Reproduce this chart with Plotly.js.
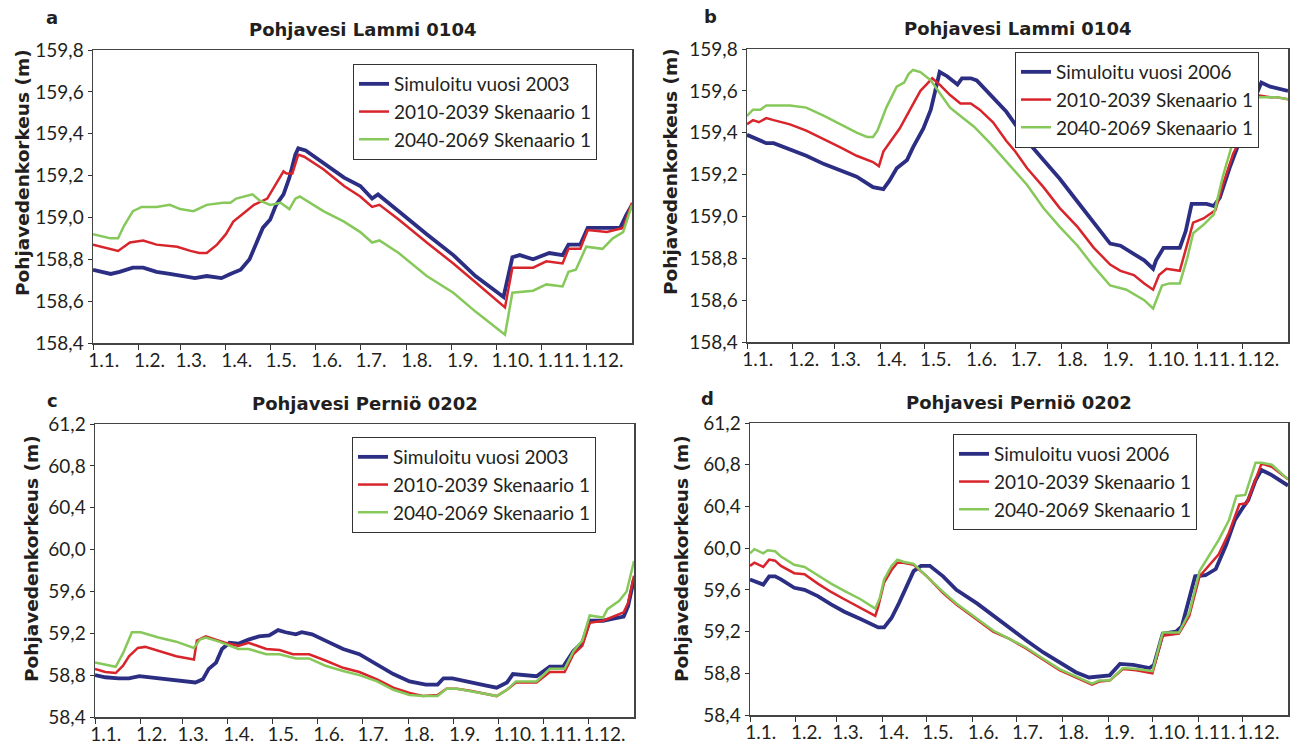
<!DOCTYPE html>
<html>
<head>
<meta charset="utf-8">
<script src="https://cdn.plot.ly/plotly-3.0.1.min.js"></script>
<style>html,body{margin:0;padding:0;background:#fff;}#chart{width:1295px;height:749px;}</style>
</head>
<body>
<div id="chart"></div>
<script>
// ---------- DATA (day of year, groundwater level in m) ----------
const monthTickDays = [0,31,59,90,120,151,181,212,243,273,304,334];
const monthTickLabels = ["1.1.","1.2.","1.3.","1.4.","1.5.","1.6.","1.7.","1.8.","1.9.","1.10.","1.11.","1.12."];

const seriesNamesAC = ["Simuloitu vuosi 2003","2010-2039 Skenaario 1","2040-2069 Skenaario 1"];
const seriesNamesBD = ["Simuloitu vuosi 2006","2010-2039 Skenaario 1","2040-2069 Skenaario 1"];
const panelTitles = ["Pohjavesi Lammi 0104","Pohjavesi Lammi 0104","Pohjavesi Perniö 0202","Pohjavesi Perniö 0202"];
const panelLetters = ["a","b","c","d"];
const yAxisTitle = "Pohjavedenkorkeus (m)";
const yTicksLammi = [158.4,158.6,158.8,159.0,159.2,159.4,159.6,159.8];
const yTicksPernio = [58.4,58.8,59.2,59.6,60.0,60.4,60.8,61.2];

// Panel a: Lammi 0104, 2003
const a_sim_x = [0,12,18,27,34,43,52,61,69,77,87,93,100,106,111,115,120,124,129,133,137,139,144,156,170,181,189,193,198,207,226,244,259,278,284,289,298,309,318,322,330,335,343,357,361,365];
const a_sim_y = [158.75,158.73,158.74,158.76,158.76,158.74,158.73,158.72,158.71,158.72,158.71,158.73,158.75,158.80,158.88,158.95,158.99,159.06,159.11,159.19,159.30,159.33,159.32,159.26,159.19,159.15,159.09,159.11,159.08,159.03,158.92,158.82,158.72,158.62,158.81,158.82,158.80,158.83,158.82,158.87,158.87,158.95,158.95,158.95,159.01,159.06];
const a_s1_x = [0,11,17,25,34,43,57,66,72,77,84,90,95,102,109,118,123,129,131,135,139,143,156,170,181,189,194,207,226,244,259,279,284,293,298,307,318,322,330,335,348,359,365];
const a_s1_y = [158.87,158.85,158.84,158.88,158.89,158.87,158.86,158.84,158.83,158.83,158.87,158.92,158.98,159.02,159.06,159.09,159.15,159.22,159.21,159.21,159.30,159.29,159.23,159.15,159.10,159.05,159.06,158.99,158.88,158.78,158.69,158.57,158.76,158.76,158.76,158.79,158.78,158.85,158.85,158.94,158.93,158.95,159.07];
const a_s2_x = [0,7,12,17,21,27,33,43,52,59,68,77,88,93,97,108,113,120,127,133,137,140,156,170,181,189,194,207,226,244,259,279,284,298,307,318,322,327,334,345,352,359,365];
const a_s2_y = [158.92,158.91,158.90,158.90,158.96,159.03,159.05,159.05,159.06,159.04,159.03,159.06,159.07,159.07,159.09,159.11,159.08,159.06,159.07,159.04,159.09,159.10,159.03,158.98,158.93,158.88,158.89,158.83,158.72,158.64,158.55,158.44,158.64,158.65,158.68,158.67,158.74,158.75,158.86,158.85,158.90,158.93,159.06];

// Panel b: Lammi 0104, 2006
const b_sim_x = [0,7,13,18,29,40,52,63,74,85,92,96,101,108,112,119,124,128,130,135,142,145,151,155,164,175,181,189,200,211,223,234,245,252,261,268,274,276,281,292,296,300,310,315,319,326,333,339,347,353,365];
const b_sim_y = [159.39,159.37,159.35,159.35,159.32,159.29,159.25,159.22,159.19,159.14,159.13,159.17,159.23,159.27,159.33,159.42,159.51,159.63,159.69,159.67,159.63,159.66,159.66,159.65,159.58,159.50,159.44,159.36,159.27,159.18,159.07,158.97,158.87,158.86,158.82,158.79,158.75,158.79,158.85,158.85,158.93,159.06,159.06,159.05,159.09,159.24,159.37,159.50,159.64,159.62,159.60];
const b_s1_x = [0,4,8,13,18,29,40,52,63,74,85,89,92,97,103,110,117,121,125,130,137,144,151,157,166,175,181,189,200,211,223,234,245,252,261,268,274,278,283,292,297,301,308,316,321,328,333,339,344,353,357,365];
const b_s1_y = [159.44,159.46,159.45,159.47,159.46,159.44,159.41,159.37,159.33,159.29,159.26,159.24,159.31,159.36,159.42,159.51,159.60,159.63,159.66,159.63,159.58,159.54,159.54,159.51,159.45,159.36,159.31,159.23,159.14,159.04,158.95,158.85,158.77,158.74,158.72,158.68,158.65,158.72,158.75,158.74,158.87,158.97,158.99,159.03,159.15,159.30,159.37,159.50,159.58,159.57,159.57,159.56];
const b_s2_x = [0,4,9,13,29,40,52,63,74,81,85,88,94,101,106,109,112,117,124,130,137,144,153,164,175,181,189,200,211,223,234,245,256,268,274,280,285,292,297,301,308,315,321,328,333,339,344,353,357,365];
const b_s2_y = [159.48,159.51,159.51,159.53,159.53,159.52,159.48,159.44,159.40,159.38,159.38,159.41,159.52,159.62,159.64,159.68,159.70,159.69,159.65,159.59,159.52,159.48,159.43,159.35,159.26,159.21,159.15,159.04,158.95,158.86,158.76,158.67,158.65,158.60,158.56,158.67,158.68,158.68,158.80,158.92,158.96,159.01,159.19,159.36,159.39,159.52,159.57,159.57,159.57,159.56];

// Panel c: Perniö 0202, 2003
const c_sim_x = [0,7,16,23,30,37,48,59,68,73,77,82,86,91,97,104,111,118,124,129,136,140,147,156,168,179,191,202,213,224,232,236,242,254,265,272,279,283,292,299,308,317,324,330,335,344,351,358,361,365];
const c_sim_y = [58.80,58.78,58.77,58.77,58.79,58.78,58.76,58.74,58.73,58.76,58.86,58.92,59.05,59.11,59.10,59.14,59.17,59.18,59.23,59.21,59.19,59.21,59.19,59.13,59.05,59.00,58.90,58.81,58.74,58.71,58.71,58.77,58.77,58.73,58.70,58.68,58.73,58.81,58.80,58.79,58.88,58.88,59.03,59.11,59.32,59.32,59.34,59.36,59.46,59.72];
const c_s1_x = [0,7,14,19,23,29,34,43,55,67,69,75,82,88,97,104,116,125,134,145,156,168,179,191,202,213,222,232,238,245,254,265,272,279,285,299,308,318,324,330,335,344,351,358,361,365];
const c_s1_y = [58.86,58.83,58.82,58.89,58.98,59.06,59.07,59.03,58.98,58.95,59.13,59.17,59.14,59.11,59.08,59.11,59.05,59.04,59.00,59.00,58.94,58.87,58.83,58.76,58.68,58.63,58.60,58.61,58.67,58.67,58.65,58.62,58.60,58.66,58.73,58.73,58.83,58.83,59.00,59.08,59.30,59.32,59.36,59.40,59.49,59.75];
const c_s2_x = [0,7,14,19,25,31,43,55,67,71,75,84,91,97,104,116,125,136,145,156,168,179,191,202,213,222,232,238,245,254,265,272,279,285,299,308,318,324,330,335,344,347,355,360,365];
const c_s2_y = [58.92,58.90,58.88,59.01,59.21,59.21,59.16,59.12,59.06,59.14,59.16,59.12,59.08,59.05,59.05,59.00,59.00,58.96,58.96,58.89,58.84,58.80,58.74,58.66,58.61,58.60,58.60,58.67,58.67,58.65,58.62,58.60,58.66,58.74,58.74,58.86,58.86,59.03,59.13,59.37,59.35,59.43,59.51,59.60,59.89];

// Panel d: Perniö 0202, 2006
const d_sim_x = [0,4,9,13,17,21,30,37,46,55,64,75,87,91,96,101,107,111,116,122,131,140,154,165,176,188,199,210,221,230,244,251,260,271,274,280,289,293,302,309,316,323,329,334,338,343,347,354,359,365];
const d_sim_y = [59.70,59.68,59.65,59.73,59.73,59.70,59.62,59.60,59.54,59.46,59.39,59.32,59.24,59.24,59.33,59.47,59.67,59.78,59.83,59.83,59.73,59.60,59.47,59.35,59.23,59.11,59.00,58.90,58.81,58.76,58.78,58.89,58.88,58.85,58.88,59.18,59.20,59.25,59.73,59.74,59.80,60.03,60.27,60.38,60.46,60.65,60.75,60.70,60.65,60.60];
const d_s1_x = [0,3,9,13,17,21,30,37,46,55,64,75,85,87,91,96,100,104,111,120,131,140,154,165,176,187,199,210,221,232,237,244,253,262,273,280,291,298,305,311,318,325,332,337,343,347,354,365];
const d_s1_y = [59.83,59.86,59.82,59.89,59.88,59.83,59.76,59.75,59.66,59.58,59.51,59.43,59.35,59.44,59.67,59.79,59.86,59.86,59.84,59.73,59.57,59.46,59.31,59.20,59.13,59.04,58.93,58.83,58.76,58.69,58.72,58.73,58.84,58.83,58.80,59.16,59.18,59.35,59.73,59.83,59.94,60.15,60.42,60.43,60.67,60.81,60.78,60.66];
const d_s2_x = [0,3,9,12,17,21,30,37,46,55,64,75,85,88,91,96,100,104,111,120,131,140,154,165,176,187,199,210,221,232,237,244,253,262,273,280,291,298,305,311,318,325,330,336,343,347,354,365];
const d_s2_y = [59.95,59.99,59.95,59.98,59.97,59.92,59.84,59.82,59.74,59.66,59.59,59.51,59.42,59.52,59.70,59.83,59.89,59.87,59.85,59.73,59.58,59.47,59.32,59.21,59.13,59.05,58.94,58.84,58.77,58.70,58.73,58.73,58.85,58.84,58.82,59.19,59.19,59.38,59.78,59.92,60.08,60.27,60.50,60.51,60.82,60.82,60.80,60.66];

// ---------- STYLE ----------
const COLORS = ["#2b2e83","#d8242b","#86c85a"];
const WIDTHS = [3.8,2.5,2.5];
const tickFont = {family:"Lato, 'Open Sans', sans-serif", size:19, color:"#231f20"};
const boldFont = {family:"'DejaVu Sans', Verdana, sans-serif", size:18, color:"#231f20", weight:"bold"};
const yTitleFont = {family:"'DejaVu Sans', Verdana, sans-serif", size:18.5, color:"#231f20", weight:"bold"};

const panels = [
  {id:"", xs:[a_sim_x,a_s1_x,a_s2_x], ys:[a_sim_y,a_s1_y,a_s2_y], names:seriesNamesAC, yt:yTicksLammi, dx:[93,632], dy:[50,343], leg:[353,64], letter:[52,17], ytitle:[22,173]},
  {id:"2", xs:[b_sim_x,b_s1_x,b_s2_x], ys:[b_sim_y,b_s1_y,b_s2_y], names:seriesNamesBD, yt:yTicksLammi, dx:[747,1288], dy:[49,342], leg:[1015,52], letter:[710,16], ytitle:[671,172]},
  {id:"3", xs:[c_sim_x,c_s1_x,c_s2_x], ys:[c_sim_y,c_s1_y,c_s2_y], names:seriesNamesAC, yt:yTicksPernio, dx:[95,634], dy:[424,717], leg:[352,437], letter:[52,400], ytitle:[31,559]},
  {id:"4", xs:[d_sim_x,d_s1_x,d_s2_x], ys:[d_sim_y,d_s1_y,d_s2_y], names:seriesNamesBD, yt:yTicksPernio, dx:[750,1288], dy:[423,715], leg:[953,434], letter:[708,399], ytitle:[681,559]}
];
const W = 1295, H = 749;
const data = [];
const layout = {
  width: W, height: H,
  margin: {l:0, r:0, t:0, b:0},
  paper_bgcolor: "#fff", plot_bgcolor: "#fff",
  separators: ", ",
  showlegend: true,
  annotations: []
};

panels.forEach((p, i) => {
  const xa = "x" + p.id, ya = "y" + p.id;
  const legKey = i === 0 ? "legend" : "legend" + (i + 1);
  for (let s = 0; s < 3; s++) {
    data.push({
      type: "scatter", mode: "lines",
      x: p.xs[s], y: p.ys[s], name: p.names[s],
      xaxis: xa, yaxis: ya, legend: legKey,
      line: {color: COLORS[s], width: WIDTHS[s]},
      hoverinfo: "skip"
    });
  }
  layout["xaxis" + p.id] = {
    domain: [p.dx[0] / W, p.dx[1] / W],
    anchor: ya, range: [0, 365], showgrid: false, zeroline: false,
    tickmode: "array", tickvals: monthTickDays, ticktext: monthTickLabels,
    ticks: "outside", ticklen: 5, tickcolor: "#333", tickangle: 0,
    ticklabelposition: "outside right", ticklabelshift: -6,
    showline: true, mirror: true, linecolor: "#444", linewidth: 1.5,
    tickfont: tickFont, fixedrange: true
  };
  layout["yaxis" + p.id] = {
    domain: [1 - p.dy[1] / H, 1 - p.dy[0] / H],
    anchor: xa, range: [p.yt[0], p.yt[p.yt.length - 1]], showgrid: false, zeroline: false,
    tickmode: "array", tickvals: p.yt, tickformat: ".1f",
    ticks: "outside", ticklen: 4, tickcolor: "#333",
    showline: true, mirror: true, linecolor: "#444", linewidth: 1.5,
    tickfont: tickFont, fixedrange: true
  };
  layout[legKey] = {
    x: p.leg[0] / W, y: 1 - p.leg[1] / H, xanchor: "left", yanchor: "top",
    xref: "paper", yref: "paper",
    bgcolor: "#fff", bordercolor: "#333", borderwidth: 1,
    font: {family: "Lato, 'Open Sans', sans-serif", size: 19, color: "#231f20"},
    itemwidth: 30, tracegroupgap: 0
  };
  // panel title
  layout.annotations.push({
    text: panelTitles[i], xref: xa + " domain", yref: ya + " domain",
    x: 0.5, y: 1, xanchor: "center", yanchor: "bottom", yshift: 8,
    showarrow: false, font: boldFont
  });
  // panel letter
  layout.annotations.push({
    text: panelLetters[i], xref: "paper", yref: "paper",
    x: p.letter[0] / W, y: 1 - p.letter[1] / H, xanchor: "center", yanchor: "middle",
    showarrow: false, font: boldFont
  });
  // y-axis title
  layout.annotations.push({
    text: yAxisTitle, xref: "paper", yref: "paper", textangle: -90,
    x: p.ytitle[0] / W, y: 1 - p.ytitle[1] / H, xanchor: "center", yanchor: "middle",
    showarrow: false, font: yTitleFont
  });
});

Plotly.newPlot("chart", data, layout, {displayModeBar: false, staticPlot: true});
</script>
</body>
</html>
